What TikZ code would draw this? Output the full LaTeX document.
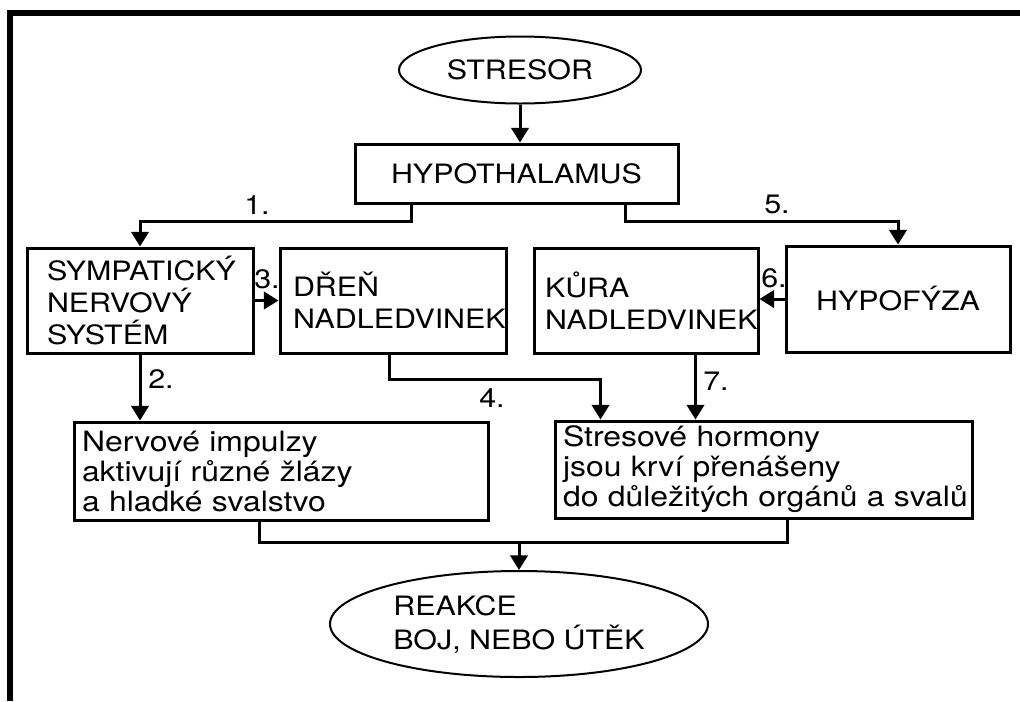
\documentclass[tikz,border=0pt]{standalone}
\usepackage{fontspec}
\setmainfont[FakeStretch=1.14]{TeX Gyre Heros}
\usetikzlibrary{arrows.meta,shapes.geometric,calc}
\begin{document}
\begin{tikzpicture}[x=0.75pt,y=-0.75pt,
  every node/.style={font=\fontsize{20pt}{24pt}\selectfont},
  box/.style={draw,line width=2.25pt,rectangle,inner ysep=0pt},
  oval/.style={draw,ellipse,line width=1.5pt,inner sep=0pt},
  small/.style={font=\fontsize{21pt}{22.5pt}\selectfont},
  con/.style={line width=2.25pt},
  arr/.style={con,-{Triangle[length=11pt,width=13pt]}},
  lbl/.style={inner sep=0pt}]
\useasboundingbox (0,0) rectangle (1020,701);
\draw[line width=4.5pt] (10,701) -- (10,13) -- (1020,13);
% nodes
\node[oval,minimum width=181.5pt,minimum height=50.25pt] (stresor) at (520,70) {STRESOR};
\node[box,minimum width=242.25pt,minimum height=44.25pt] (hyp) at (516.5,173.5) {HYPOTHALAMUS};
\node[box,minimum width=169.5pt,minimum height=78.75pt,inner xsep=15pt,text width=139.5pt,align=left] (sym) at (140,300.5) {SYMPATICKÝ\\NERVOVÝ\\SYSTÉM};
\node[box,minimum width=169.5pt,minimum height=78.75pt,inner xsep=9.75pt,text width=150pt,align=left] (dren) at (393,300.5) {DŘEŇ\\NADLEDVINEK};
\node[box,minimum width=168pt,minimum height=78.75pt,inner xsep=8.25pt,text width=151.5pt,align=left] (kura) at (646,300.5) {KŮRA\\NADLEDVINEK};
\node[box,minimum width=168pt,minimum height=79.5pt] (hypo) at (898,299) {HYPOFÝZA};
\node[box,small,minimum width=310.5pt,minimum height=73.5pt,inner xsep=6pt,text width=298.5pt,align=left] (nerv) at (281,471) {Nervové impulzy\\aktivují různé žlázy\\a hladké svalstvo};
\node[box,small,minimum width=312.75pt,minimum height=72.75pt,inner xsep=6pt,text width=300.75pt,align=left] (stres) at (763.5,469.5) {Stresové hormony\\jsou krví přenášeny\\\mbox{do důležitých orgánů a svalů}};
\node[oval,minimum width=283.5pt,minimum height=79.5pt,align=left,font=\fontsize{20pt}{25.5pt}\selectfont] (reakce) at (519,624) {REAKCE\\BOJ, NEBO ÚTĚK};
% labels
\node[lbl] (l1) at (257,205) {1.};
\node[lbl] (l5) at (777,204) {5.};
\node[lbl] (l3) at (267,279) {3.};
\node[lbl] (l6) at (774,278) {6.};
\node[lbl] (l2) at (161,379) {2.};
\node[lbl] (l4) at (492,398) {4.};
\node[lbl] (l7) at (716,381) {7.};
% connectors
\draw[arr] (stresor.south) -- (stresor.south |- hyp.north);
\draw[arr] ($(hyp.south west)+(58,0)$) -- ++(0,17) -| (sym.north);
\draw[arr] ($(hyp.south east)+(-54,0)$) -- ++(0,17) -| (hypo.north);
\draw[arr] (sym.east) -- (sym.east -| dren.west);
\draw[arr] (hypo.west) -- (hypo.west -| kura.east);
\draw[arr] (sym.south) -- (sym.south |- nerv.north);
\draw[arr] ($(dren.south)+(-4,0)$) -- ++(0,25) -| ($(stres.north west)+(47,0)$);
\coordinate (k7) at ($(kura.south west)+(163,0)$);
\draw[arr] (k7) -- (k7 |- stres.north);
\coordinate (j) at ($(nerv.south west)+(187,21)$);
\draw[con] ($(nerv.south west)+(187,0)$) -- (j) -| ($(stres.south west)+(234,0)$);
\draw[arr] (j -| reakce.north) -- (reakce.north);
\end{tikzpicture}
\end{document}
